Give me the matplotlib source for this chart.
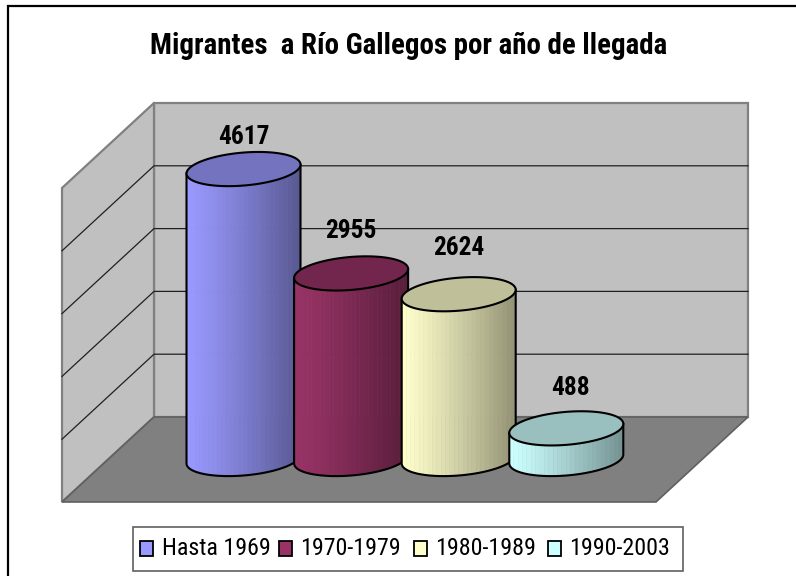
import numpy as np
import matplotlib
matplotlib.use("Agg")
import matplotlib.pyplot as plt
from matplotlib.patches import Rectangle, Polygon

plt.rcParams['font.family'] = ['Roboto Condensed', 'Liberation Sans', 'DejaVu Sans']

# ---- data ----
title = "Migrantes  a Río Gallegos por año de llegada"
categories = ["Hasta 1969", "1970-1979", "1980-1989", "1990-2003"]
values = [4617, 2955, 2624, 488]
colors = ["#9999FF", "#993366", "#FFFFCC", "#CCFFFF"]
y_ticks = [0, 1000, 2000, 3000, 4000, 5000]

# ---- layout (pixels) ----
W, H = 796, 576
PX_PER_UNIT = 0.0628       # vertical scale of the value axis
WALL_BASE = 417            # pixel row of value 0 on back wall
CYL_BASE = 459             # pixel row of value 0 at cylinder centre
BACK_L, BACK_R = 154, 748
DX, DY = 92, 85            # depth offset of the floor (left/down)
CX0, CX_STEP = 243.5, 107.6
RX, RY, SHEAR = 57, 16.5, 4.5
# label offset above the top-ellipse centre, per bar
LABEL_DY = [32, 42, 46, 40]
LABEL_DX = [0, 0, 0, 4]

fig = plt.figure(figsize=(W / 100, H / 100), dpi=100, facecolor="white")
ax = fig.add_axes([0, 0, 1, 1])
ax.set_xlim(0, W)
ax.set_ylim(H, 0)
ax.axis("off")


def wall_y(v):
    return WALL_BASE - v * PX_PER_UNIT


def cyl_y(v):
    return CYL_BASE - v * PX_PER_UNIT


def shade(c, f):
    return tuple(np.array(matplotlib.colors.to_rgb(c)) * f)


# outer frame (only top and left are visible)
ax.plot([8, 8, W], [H, 5.5, 5.5], color="black", lw=1.6, solid_joinstyle="miter", zorder=1)

# walls and floor
top = wall_y(y_ticks[-1])
bot = wall_y(0)
edge = dict(edgecolor="#808080", linewidth=1.6, joinstyle="miter")
ax.add_patch(Polygon([(BACK_L, top), (BACK_R, top), (BACK_R, bot), (BACK_L, bot)],
                     facecolor="#C0C0C0", zorder=2, **edge))
ax.add_patch(Polygon([(BACK_L, top), (BACK_L, bot), (BACK_L - DX, bot + DY), (BACK_L - DX, top + DY)],
                     facecolor="#C0C0C0", zorder=2, **edge))
ax.add_patch(Polygon([(BACK_L, bot), (BACK_R, bot), (BACK_R - DX, bot + DY), (BACK_L - DX, bot + DY)],
                     facecolor="#808080", edgecolor="#606060", linewidth=1.2, zorder=2.5))
for t in y_ticks[1:-1]:
    y = wall_y(t)
    ax.plot([BACK_L - DX, BACK_L, BACK_R], [y + DY, y, y], color="#202020", lw=0.9, zorder=3)

# cylinders
t_top = np.linspace(0, 2 * np.pi, 181)
t_front = np.linspace(np.pi, 0, 61)    # left -> right through the front
for i, (v, c) in enumerate(zip(values, colors)):
    z = 4 + i
    cx = CX0 + i * CX_STEP
    yt, yb = cyl_y(v), cyl_y(0)
    n_strip = 26
    edges = np.linspace(-RX, RX, n_strip + 1)
    for j in range(n_strip):
        x0, x1 = edges[j], edges[j + 1]
        xx = np.linspace(x0, x1, 6)
        off = RY * np.sqrt(np.clip(1 - (xx / RX) ** 2, 0, 1)) - SHEAR * xx / RX
        frac = j / (n_strip - 1)
        col = shade(c, 1.0 - 0.42 * frac ** 1.15)
        px = np.r_[cx + xx, cx + xx[::-1]]
        py = np.r_[yt + off, (yb + off)[::-1]]
        ax.fill(px, py, facecolor=col, edgecolor=col, lw=0.4, zorder=z)
    ox = cx + RX * np.cos(t_front)
    oy = RY * np.sin(t_front) - SHEAR * np.cos(t_front)
    ax.plot(np.r_[ox[0], ox, ox[-1]], np.r_[yt + oy[0], yb + oy, yt + oy[-1]],
            color="black", lw=1.5, zorder=z + 0.1)
    ex = cx + RX * np.cos(t_top)
    ey = yt + RY * np.sin(t_top) - SHEAR * np.cos(t_top)
    ax.fill(ex, ey, facecolor=shade(c, 0.75), edgecolor="black", lw=1.5, zorder=z + 0.2)
    ax.text(cx + LABEL_DX[i], yt - LABEL_DY[i], str(v), ha="center", va="center",
            fontsize=18.3, fontweight="bold", color="black", zorder=20)

# title
ax.text(408.5, 46, title, ha="center", va="center", fontsize=20.9, fontweight="bold",
        color="black", zorder=20)

# legend
ax.add_patch(Rectangle((133, 527), 550, 44, facecolor="white", edgecolor="#606060", lw=1.2, zorder=20))
swatch_x = [140, 279, 414, 548]
for sx, c, lab in zip(swatch_x, colors, categories):
    ax.add_patch(Rectangle((sx, 541), 12.5, 15, facecolor=c, edgecolor="black", lw=1.3, zorder=21))
    ax.text(sx + 21.5, 548.5, lab, ha="left", va="center", fontsize=17.3, color="black", zorder=21)

fig.savefig("out.png", dpi=100, facecolor="white")
